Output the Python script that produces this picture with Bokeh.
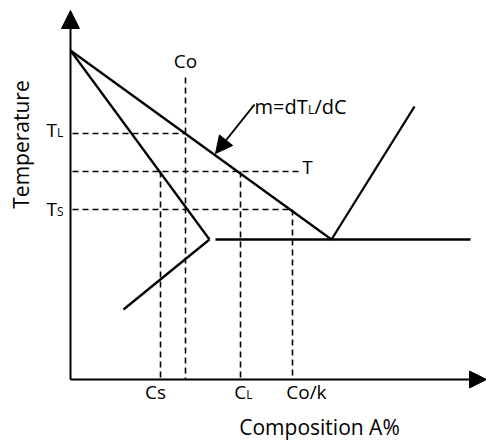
from bokeh.plotting import figure
from bokeh.models import Range1d, Arrow, NormalHead
from bokeh.core.properties import value
from bokeh.embed import file_html
from bokeh.resources import INLINE
import math

# ---- data (composition units / temperature units, schematic) ----
T_melt = 329            # melting point at composition 0
T_eut = 140             # eutectic temperature
C_eut = 261             # eutectic composition
C_sol_end = 139         # solidus end on eutectic isotherm
solvus_end = (53, 70)   # lower end of solvus line
eut_line = (145, 400)   # eutectic isotherm span
right_liq_end = (344, 273)

T_L = 246
T_mid = 208
T_S = 170
C_o = 115
C_o_top = 302
C_S = 90
C_L = 170
C_o_k = 222
C_T_end = 229

x_axis_end = 416
y_axis_end = 369

FONT = value("Open Sans")

p = figure(width=486, height=441, output_backend="svg", toolbar_location=None,
           x_range=Range1d(-70, 416), y_range=Range1d(-62, 379),
           x_axis_type=None, y_axis_type=None, min_border=0)
p.grid.visible = False
p.outline_line_color = None
p.background_fill_color = "white"
p.border_fill_color = "white"

BLK = "black"
# axes with arrowheads
p.add_layout(Arrow(end=NormalHead(size=18, fill_color=BLK, line_color=BLK),
                   x_start=0, y_start=0, x_end=0, y_end=y_axis_end,
                   line_width=2, line_color=BLK))
p.add_layout(Arrow(end=NormalHead(size=17, fill_color=BLK, line_color=BLK),
                   x_start=0, y_start=0, x_end=x_axis_end, y_end=0,
                   line_width=2, line_color=BLK))

# phase boundaries
LW = 2.3
p.line([0, C_eut], [T_melt, T_eut], line_width=LW, line_color=BLK)
p.line([0, C_sol_end], [T_melt, T_eut], line_width=LW, line_color=BLK)
p.line([C_sol_end, solvus_end[0]], [T_eut, solvus_end[1]], line_width=LW, line_color=BLK)
p.line(list(eut_line), [T_eut, T_eut], line_width=LW, line_color=BLK)
p.line([C_eut, right_liq_end[0]], [T_eut, right_liq_end[1]], line_width=LW, line_color=BLK)

# dashed guides
DW = 1.6
DASH = "6 4"
for (x0, x1, y) in [(2, C_o, T_L), (2, C_T_end, T_mid), (2, C_o_k, T_S)]:
    p.line([x0, x1], [y, y], line_width=DW, line_color=BLK, line_dash=DASH)
for (x, y0) in [(C_o, C_o_top), (C_S, T_mid), (C_L, T_mid), (C_o_k, T_S)]:
    p.line([x, x], [y0, 0], line_width=DW, line_color=BLK, line_dash=DASH)

# slope arrow
p.add_layout(Arrow(end=NormalHead(size=17, fill_color=BLK, line_color=BLK),
                   x_start=184, y_start=275, x_end=145, y_end=226,
                   line_width=2, line_color=BLK))

# text helpers
W = {"m": .929, "=": .572, "d": .615, "T": .557, "L": .535, "/": .371,
     "C": .633, "o": .602, "s": .479, "k": .525, "S": .537}
FIX = 0.47  # baseline correction (em) for SVG text placement

def width(s, size):
    return sum(W.get(ch, .56) for ch in s) * size

def label(pieces, x, y, align="left"):
    total = sum(width(s, sz) for s, sz in pieces)
    off = 0.0 if align == "left" else (-total / 2 if align == "center" else -total)
    for s, sz in pieces:
        p.text(x=[x], y=[y + FIX * sz], text=[s], x_offset=[off], text_font=FONT,
               text_font_size=f"{sz}px", text_align="left",
               text_baseline="alphabetic", text_color=BLK)
        off += width(s, sz)

BIG, SUB = 19, 12
label([("T", BIG), ("L", SUB)], -7, 241, "right")
label([("T", BIG), ("S", SUB)], -7, 162, "right")
label([("Co", BIG)], C_o, 310, "center")
label([("T", BIG)], 237, 204, "center")
label([("m=dT", 20), ("L", SUB), ("/dC", 20)], 184, 264, "left")
label([("Cs", BIG)], 85, -21, "center")
label([("C", BIG), ("L", SUB)], 173, -21, "center")
label([("Co/k", BIG)], 236, -21, "center")

p.text(x=[249], y=[-57 + FIX * 21], text=["Composition A%"], text_font=FONT,
       text_font_size="21px", text_align="center", text_baseline="alphabetic",
       text_color=BLK)
p.text(x=[-40 - FIX * 21], y=[235], text=["Temperature"], angle=[math.pi / 2], text_font=FONT,
       text_font_size="21px", text_align="center", text_baseline="alphabetic",
       text_color=BLK)

open("out.html", "w").write(file_html(p, INLINE))
